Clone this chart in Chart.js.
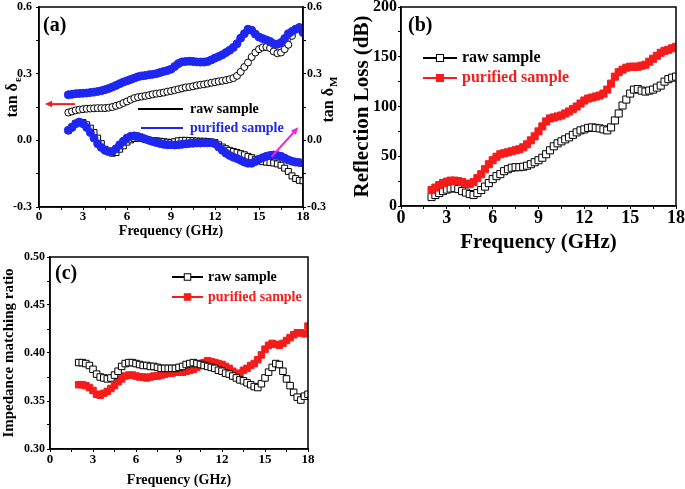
<!DOCTYPE html>
<html lang="en">
<head>
<meta charset="UTF-8">
<title>Loss tangent, reflection loss and impedance matching</title>
<script src="https://cdn.jsdelivr.net/npm/chart.js"></script>
<style>
body { margin:0; background:#fff; }
#fig { position:relative; width:685px; height:489px; overflow:hidden; background:#fff; }
#fig canvas { position:absolute; }
#cA { left:0; top:0; }
#cB { left:340px; top:0; }
#cC { left:0; top:250px; }
</style>
</head>
<body>
<div id="fig">
  <canvas id="cA" width="340" height="245"></canvas>
  <canvas id="cB" width="345" height="265"></canvas>
  <canvas id="cC" width="340" height="239"></canvas>
</div>

<script>
// frequency points (GHz), one row per GHz, every 0.25 GHz
const freq = [
  2, 2.25, 2.5, 2.75,   3, 3.25, 3.5, 3.75,   4, 4.25, 4.5, 4.75,   5, 5.25, 5.5, 5.75,
  6, 6.25, 6.5, 6.75,   7, 7.25, 7.5, 7.75,   8, 8.25, 8.5, 8.75,   9, 9.25, 9.5, 9.75,
  10, 10.25, 10.5, 10.75, 11, 11.25, 11.5, 11.75, 12, 12.25, 12.5, 12.75, 13, 13.25, 13.5, 13.75,
  14, 14.25, 14.5, 14.75, 15, 15.25, 15.5, 15.75, 16, 16.25, 16.5, 16.75, 17, 17.25, 17.5, 17.75,
  18];

// (a) dielectric loss tangent (left axis)
const epsRaw = [
  0.125,0.130,0.135,0.138, 0.140,0.142,0.143,0.144, 0.145,0.145,0.145,0.147, 0.150,0.155,0.160,0.168,
  0.175,0.183,0.190,0.194, 0.197,0.200,0.203,0.207, 0.210,0.212,0.215,0.219, 0.222,0.226,0.230,0.234,
  0.238,0.240,0.243,0.247, 0.250,0.252,0.255,0.259, 0.262,0.265,0.268,0.271, 0.275,0.280,0.290,0.308,
  0.330,0.350,0.375,0.395, 0.410,0.418,0.420,0.415, 0.400,0.392,0.395,0.410, 0.430,0.470,0.500,0.510,
  0.490];
const epsPur = [
  0.205,0.207,0.210,0.211, 0.212,0.213,0.215,0.217, 0.220,0.223,0.228,0.233, 0.240,0.247,0.255,0.262,
  0.268,0.274,0.280,0.286, 0.290,0.292,0.295,0.297, 0.300,0.305,0.310,0.314, 0.320,0.332,0.345,0.353,
  0.355,0.356,0.355,0.353, 0.352,0.352,0.355,0.362, 0.370,0.377,0.385,0.395, 0.405,0.418,0.435,0.460,
  0.480,0.500,0.495,0.478, 0.465,0.458,0.452,0.445, 0.435,0.432,0.440,0.458, 0.480,0.490,0.500,0.505,
  0.485];
// (a) magnetic loss tangent (right axis)
const muRaw = [
  0.045,0.060,0.075,0.082, 0.080,0.070,0.055,0.035, 0.010,-0.015,-0.040,-0.052, -0.058,-0.055,-0.040,-0.025,
  -0.008,0.002,0.008,0.010, 0.008,0.004,0.000,-0.001, -0.002,-0.004,-0.006,-0.008, -0.010,-0.006,-0.002,0.000,
  0.000,-0.001,-0.002,-0.003, -0.004,-0.004,-0.005,-0.007, -0.010,-0.020,-0.030,-0.038, -0.045,-0.050,-0.055,-0.060,
  -0.065,-0.072,-0.078,-0.085, -0.092,-0.096,-0.098,-0.100, -0.102,-0.106,-0.112,-0.125, -0.140,-0.160,-0.172,-0.180,
  -0.182];
const muPur = [
  0.045,0.058,0.075,0.082, 0.075,0.058,0.035,0.010, -0.015,-0.032,-0.045,-0.050, -0.050,-0.038,-0.020,-0.004,
  0.010,0.018,0.020,0.017, 0.012,0.006,0.000,-0.005, -0.010,-0.014,-0.018,-0.020, -0.020,-0.021,-0.020,-0.018,
  -0.016,-0.014,-0.013,-0.012, -0.012,-0.011,-0.011,-0.011, -0.015,-0.030,-0.045,-0.058, -0.068,-0.076,-0.082,-0.090,
  -0.098,-0.103,-0.103,-0.095, -0.085,-0.078,-0.072,-0.068, -0.066,-0.068,-0.072,-0.080, -0.088,-0.094,-0.098,-0.100,
  -0.102];

// (b) reflection loss (dB)
const rlRaw = [
  9,11,13,15, 16.5,17.5,18,17, 15,13.5,12,11, 13,16,19.5,23,
  27,30,32,35, 37,38.5,39,39, 39.5,40.5,42,44, 46,48.5,52,56,
  60,63,65,67, 69,71.5,74,76, 77,78.5,79,78.5, 78,77,76,79,
  86,93,101,107, 113,117,117.5,116, 115,116,117,119, 121,125,127.5,129,
  130];
const rlPur = [
  16,18.5,21,23, 24.5,25.5,25.5,25, 24,22.5,22,24, 28,32,37,42,
  46,49.5,52,53, 54,55,56,57, 59,62,66,70, 75,80,85,88,
  89,90,91,93, 95,97.5,100,103, 106,108,109,110, 111,113,117,123,
  130,134.5,137,139, 140,140,140,141, 142,145,148,151, 154,156,157,158.5,
  160];

// (c) impedance matching ratio
const imRaw = [
  0.390,0.390,0.389,0.387, 0.383,0.378,0.375,0.374, 0.373,0.374,0.377,0.381, 0.386,0.389,0.390,0.390,
  0.389,0.388,0.387,0.387, 0.386,0.386,0.385,0.384, 0.384,0.384,0.384,0.384, 0.385,0.386,0.388,0.389,
  0.390,0.389,0.388,0.387, 0.386,0.385,0.384,0.382, 0.381,0.379,0.378,0.376, 0.374,0.372,0.371,0.369,
  0.367,0.365,0.364,0.368, 0.374,0.380,0.385,0.389, 0.388,0.381,0.373,0.366, 0.359,0.354,0.351,0.355,
  0.357];
const imPur = [
  0.367,0.367,0.366,0.364, 0.361,0.357,0.356,0.358, 0.360,0.363,0.366,0.370, 0.373,0.376,0.377,0.377,
  0.376,0.375,0.375,0.374, 0.375,0.376,0.376,0.377, 0.378,0.379,0.379,0.380, 0.380,0.380,0.381,0.382,
  0.383,0.385,0.388,0.390, 0.392,0.391,0.390,0.389, 0.388,0.386,0.384,0.381, 0.378,0.379,0.382,0.384,
  0.387,0.389,0.393,0.398, 0.404,0.408,0.410,0.409, 0.408,0.410,0.413,0.416, 0.419,0.421,0.421,0.420,
  0.428];

// labelled ticks (minor ticks sit halfway between)
const freqLabels = [0, 3, 6, 9, 12, 15, 18];
const tanLabels = [-0.3, 0, 0.3, 0.6];
const rlLabels = [0, 50, 100, 150, 200];
const imLabels = [0.30, 0.35, 0.40, 0.45, 0.50];

const serif = "'Liberation Serif', 'Times New Roman', serif";
const blue = '#1f26f2';
const red = '#f51c1c';

function f(size, lh) {
  return { family: serif, weight: 'bold', size: size, lineHeight: lh || 1.2 };
}
function pts(xs, ys) {
  return xs.map((x, i) => ({ x: x, y: ys[i] }));
}
function isTick(v, list) {
  return list.some(t => Math.abs(t - v) < 1e-9);
}
function grid() {
  return { drawOnChartArea: false, drawTicks: true, tickLength: 3, color: '#000', lineWidth: 1 };
}
function border() {
  return { display: true, color: '#000', width: 1.5 };
}

function series(label, vals, color, style, r, filled, yId, order) {
  return {
    label: label, data: pts(freq, vals), yAxisID: yId, order: order,
    borderColor: color, backgroundColor: color, borderWidth: 1,
    showLine: true, fill: false, tension: 0,
    pointStyle: style, pointRadius: r, pointBorderWidth: 1,
    pointBorderColor: color, pointBackgroundColor: filled ? color : '#fff'
  };
}

function xAxis(o) {
  return {
    type: 'linear', min: 0, max: 18,
    ticks: {
      stepSize: 1.5, autoSkip: false, maxRotation: 0, color: '#000',
      font: f(o.tick, 1), padding: o.pad,
      callback: v => isTick(v, freqLabels) ? String(v) : ''
    },
    grid: grid(), border: border(),
    title: { display: true, text: 'Frequency (GHz)', color: '#000', font: f(o.title),
             padding: { top: 0, bottom: o.titlePad } },
    afterFit: s => { s.height = o.height; s.paddingLeft = 0; s.paddingRight = 0; }
  };
}

function yAxis(o) {
  const ax = {
    type: 'linear', position: o.position || 'left', min: o.min, max: o.max,
    ticks: {
      stepSize: o.step, autoSkip: false, color: '#000', font: f(o.tick, 1), padding: o.pad,
      callback: v => isTick(v, o.labels) ? v.toFixed(o.dec) : ''
    },
    grid: grid(), border: border(),
    afterFit: s => { s.width = o.width; s.paddingTop = 0; s.paddingBottom = 0; }
  };
  if (o.title) {
    ax.title = { display: true, text: o.title, color: '#000', font: f(o.titleSize),
                 padding: { top: o.titlePad, bottom: 0 } };
  }
  return ax;
}

function arrow(ctx, x0, y0, x1, y1, color) {
  const ang = Math.atan2(y1 - y0, x1 - x0), h = 8;
  ctx.strokeStyle = color; ctx.fillStyle = color; ctx.lineWidth = 2;
  ctx.beginPath();
  ctx.moveTo(x0, y0);
  ctx.lineTo(x1 - Math.cos(ang) * h * 0.7, y1 - Math.sin(ang) * h * 0.7);
  ctx.stroke();
  ctx.beginPath();
  ctx.moveTo(x1, y1);
  ctx.lineTo(x1 - h * Math.cos(ang - 0.42), y1 - h * Math.sin(ang - 0.42));
  ctx.lineTo(x1 - h * Math.cos(ang + 0.42), y1 - h * Math.sin(ang + 0.42));
  ctx.closePath();
  ctx.fill();
}

function marker(ctx, m, x, y, color) {
  ctx.lineWidth = 1;
  ctx.strokeStyle = color;
  ctx.fillStyle = m.filled ? color : '#fff';
  const s = m.r * Math.SQRT1_2;
  ctx.fillRect(x - s, y - s, 2 * s, 2 * s);
  ctx.strokeRect(x - s, y - s, 2 * s, 2 * s);
}

// frame, panel tag, inline legend, arrows and subscripted titles
function decor(cfg) {
  return {
    id: 'decor',
    afterDraw(chart) {
      const ctx = chart.ctx, a = chart.chartArea;
      ctx.save();
      ctx.strokeStyle = '#000';
      ctx.lineWidth = 1.5;
      ctx.strokeRect(a.left, a.top, a.right - a.left, a.bottom - a.top);

      ctx.fillStyle = '#000';
      ctx.font = 'bold 20px ' + serif;
      ctx.textBaseline = 'middle';
      ctx.textAlign = 'left';
      ctx.fillText(cfg.tag.text, cfg.tag.x, cfg.tag.y);

      cfg.legend.forEach(item => {
        ctx.strokeStyle = item.color;
        ctx.lineWidth = 2;
        ctx.beginPath();
        ctx.moveTo(item.x0, item.y);
        ctx.lineTo(item.x1, item.y);
        ctx.stroke();
        if (item.marker) marker(ctx, item.marker, (item.x0 + item.x1) / 2, item.y, item.color);
        ctx.fillStyle = item.color;
        ctx.font = 'bold ' + cfg.legendSize + 'px ' + serif;
        ctx.textBaseline = 'middle';
        ctx.fillText(item.text, item.tx, item.y);
      });

      (cfg.arrows || []).forEach(ar => {
        const xs = chart.scales.x, ys = chart.scales[ar.axis];
        arrow(ctx, xs.getPixelForValue(ar.from[0]), ys.getPixelForValue(ar.from[1]),
              xs.getPixelForValue(ar.to[0]), ys.getPixelForValue(ar.to[1]), ar.color);
      });

      (cfg.sideTitles || []).forEach(t => {
        ctx.save();
        ctx.translate(t.x, t.y);
        ctx.rotate(-Math.PI / 2);
        ctx.fillStyle = '#000';
        ctx.textBaseline = 'middle';
        ctx.textAlign = 'left';
        ctx.font = 'bold 16px ' + serif;
        const w1 = ctx.measureText(t.main).width;
        ctx.font = 'bold 11px ' + serif;
        const w2 = ctx.measureText(t.sub).width;
        const x0 = -(w1 + w2) / 2;
        ctx.font = 'bold 16px ' + serif;
        ctx.fillText(t.main, x0, 0);
        ctx.font = 'bold 11px ' + serif;
        ctx.fillText(t.sub, x0 + w1 + 1, 5);
        ctx.restore();
      });
      ctx.restore();
    }
  };
}

const common = {
  responsive: false, maintainAspectRatio: false, animation: false, devicePixelRatio: 1,
  events: []
};
const noPlugins = { legend: { display: false }, tooltip: { enabled: false } };

// (a) loss tangents
new Chart(document.getElementById('cA'), {
  type: 'line',
  data: { datasets: [
    series('purified sample', epsPur, blue, 'circle', 4, true, 'y', 0),
    series('raw sample', epsRaw, '#000', 'circle', 3.5, false, 'y', 1),
    series('purified sample', muPur, blue, 'circle', 4, true, 'y2', 0),
    series('raw sample', muRaw, '#000', 'rect', 4.2, false, 'y2', 1)
  ]},
  options: Object.assign({}, common, {
    layout: { padding: { top: 7, left: 0, right: 0, bottom: 0 } },
    plugins: noPlugins,
    scales: {
      x: xAxis({ tick: 13, pad: 0, title: 14, titlePad: 5.6, height: 38 }),
      y: yAxis({ min: -0.3, max: 0.6, step: 0.15, labels: tanLabels, dec: 1, tick: 12, pad: 4, width: 39 }),
      y2: yAxis({ position: 'right', min: -0.3, max: 0.6, step: 0.15, labels: tanLabels, dec: 1, tick: 12, pad: 1, width: 37 })
    }
  }),
  plugins: [decor({
    tag: { text: '(a)', x: 43, y: 25.5 },
    legendSize: 14,
    legend: [
      { text: 'raw sample', color: '#000', x0: 138, x1: 183, tx: 190, y: 109 },
      { text: 'purified sample', color: blue, x0: 141, x1: 183, tx: 190, y: 128 }
    ],
    arrows: [
      { axis: 'y', from: [2.45, 0.163], to: [0.4, 0.163], color: red },
      { axis: 'y2', from: [15.86, -0.074], to: [17.68, 0.059], color: '#ee22e6' }
    ],
    sideTitles: [
      { main: 'tan δ', sub: 'ε', x: 13, y: 98 },
      { main: 'tan δ', sub: 'M', x: 329, y: 100 }
    ]
  })]
});

// (b) reflection loss
new Chart(document.getElementById('cB'), {
  type: 'line',
  data: { datasets: [
    series('raw sample', rlRaw, '#000', 'rect', 5, false, 'y', 1),
    series('purified sample', rlPur, red, 'rect', 5, true, 'y', 0)
  ]},
  options: Object.assign({}, common, {
    layout: { padding: { top: 7, left: 0, right: 9, bottom: 0 } },
    plugins: noPlugins,
    scales: {
      x: xAxis({ tick: 18, pad: 0, title: 21, titlePad: 9.4, height: 59 }),
      y: yAxis({ min: 0, max: 200, step: 25, labels: rlLabels, dec: 0, tick: 16, pad: 1, width: 61,
                 title: 'Reflection Loss (dB)', titleSize: 21, titlePad: 9.9 })
    }
  }),
  plugins: [decor({
    tag: { text: '(b)', x: 68, y: 26 },
    legendSize: 16,
    legend: [
      { text: 'raw sample', color: '#000', x0: 83, x1: 117, tx: 122, y: 58,
        marker: { r: 5, filled: false } },
      { text: 'purified sample', color: red, x0: 83, x1: 117, tx: 122, y: 78,
        marker: { r: 5, filled: true } }
    ]
  })]
});

// (c) impedance matching ratio
new Chart(document.getElementById('cC'), {
  type: 'line',
  data: { datasets: [
    series('raw sample', imRaw, '#000', 'rect', 4.6, false, 'y', 0),
    series('purified sample', imPur, red, 'rect', 4.6, true, 'y', 1)
  ]},
  options: Object.assign({}, common, {
    layout: { padding: { top: 7, left: 0, right: 32, bottom: 0 } },
    plugins: noPlugins,
    scales: {
      x: xAxis({ tick: 13, pad: 1.5, title: 14, titlePad: 0.6, height: 40 }),
      y: yAxis({ min: 0.30, max: 0.50, step: 0.025, labels: imLabels, dec: 2, tick: 12, pad: 2, width: 50,
                 title: 'Impedance matching ratio', titleSize: 15, titlePad: 0 })
    }
  }),
  plugins: [decor({
    tag: { text: '(c)', x: 55, y: 23.5 },
    legendSize: 14,
    legend: [
      { text: 'raw sample', color: '#000', x0: 172, x1: 203, tx: 208, y: 27,
        marker: { r: 4.6, filled: false } },
      { text: 'purified sample', color: red, x0: 172, x1: 203, tx: 208, y: 47,
        marker: { r: 4.6, filled: true } }
    ]
  })]
});
</script>
</body>
</html>
